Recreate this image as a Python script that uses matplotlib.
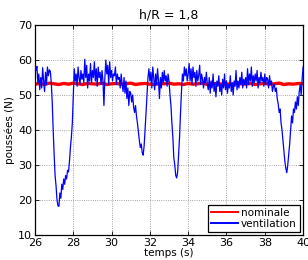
import numpy as np
import matplotlib
matplotlib.use('Agg')
import matplotlib.pyplot as plt

# --- Daten ---
t_start, t_end, dt = 26.0, 40.0, 0.05
ventilation = [
    # 26.00 - 26.95
    58.5, 57.0, 58.2, 53.5, 56.0, 51.5, 55.0, 52.0, 57.8, 54.0,
    51.0, 56.5, 53.0, 58.0, 55.5, 57.2, 56.8, 53.5, 48.0, 40.0,
    # 27.00 - 27.95
    33.0, 27.0, 24.0, 20.0, 18.3, 18.2, 22.0, 20.5, 24.5, 23.0,
    26.0, 24.5, 27.0, 26.0, 28.5, 28.0, 31.0, 35.0, 38.0, 42.0,
    # 28.00 - 28.95
    50.0, 57.5, 54.0, 56.0, 52.5, 58.0, 55.0, 53.0, 57.0, 54.5,
    56.0, 53.5, 60.2, 55.0, 58.5, 52.0, 56.0, 54.0, 59.0, 53.5,
    # 29.00 - 29.95
    57.0, 55.0, 59.5, 54.0, 57.5, 52.5, 58.0, 55.0, 56.5, 53.0,
    57.0, 54.0, 47.0, 55.0, 60.0, 56.0, 58.5, 53.0, 59.5, 55.0,
    # 30.00 - 30.95
    57.0, 54.0, 56.0, 55.5, 58.0, 53.0, 56.0, 54.5, 55.0, 52.0,
    56.0, 53.0, 51.0, 55.0, 50.5, 54.0, 49.0, 52.0, 47.0, 51.0,
    # 31.00 - 31.95
    50.5, 48.0, 50.0, 46.5, 45.0, 47.0, 44.0, 42.0, 39.5, 37.0,
    35.0, 36.0, 33.5, 32.8, 35.5, 40.0, 45.0, 50.0, 55.0, 57.5,
    # 32.00 - 32.95
    54.0, 56.5, 52.0, 58.0, 55.0, 51.5, 56.0, 53.0, 57.5, 54.0,
    49.0, 55.0, 52.0, 56.5, 53.5, 57.0, 54.0, 55.5, 52.5, 56.0,
    # 33.00 - 33.95
    54.0, 50.0, 47.0, 42.0, 38.0, 32.0, 30.0, 27.0, 26.3, 28.0,
    33.0, 38.0, 45.0, 51.0, 56.0, 54.0, 58.0, 55.5, 57.5, 54.0,
    # 34.00 - 34.95
    56.0, 59.0, 54.0, 57.5, 53.0, 58.0, 55.0, 56.5, 52.5, 57.0,
    54.0, 55.5, 58.5, 53.0, 56.0, 54.5, 52.0, 55.0, 53.5, 56.5,
    # 35.00 - 35.95
    53.0, 51.5, 55.0, 50.5, 54.0, 52.0, 56.0, 51.0, 53.5, 49.5,
    54.0, 52.5, 55.5, 51.0, 53.0, 50.0, 54.5, 52.0, 56.0, 51.5,
    # 36.00 - 36.95
    54.0, 50.5, 53.0, 52.0, 55.5, 51.0, 53.5, 50.0, 54.0, 52.5,
    57.0, 51.5, 54.0, 52.0, 55.0, 53.0, 56.5, 52.0, 54.5, 53.0,
    # 37.00 - 37.95
    55.0, 52.0, 57.5, 53.0, 56.0, 54.0, 58.0, 52.5, 55.5, 53.5,
    56.0, 54.0, 57.0, 52.0, 55.0, 53.5, 56.5, 54.0, 55.0, 52.5,
    # 38.00 - 38.95
    56.0, 53.0, 55.0, 54.5, 52.0, 55.5, 53.0, 54.0, 51.0, 52.5,
    53.0, 51.0, 52.0, 49.0, 47.5, 45.0, 46.0, 42.0, 40.0, 37.0,
    # 39.00 - 39.95
    34.0, 31.0, 29.0, 27.8, 30.0, 33.0, 36.0, 40.0, 44.0, 42.0,
    46.0, 45.0, 48.0, 46.0, 49.5, 47.0, 51.0, 53.0, 50.0, 54.5,
    # 40.00
    58.0,
]
nominale = [
    53.1, 53.3, 53.0, 53.4, 53.2, 53.0, 53.3, 53.1, 53.4, 53.2,
    53.0, 53.3, 53.2, 53.1, 53.4, 53.0, 53.2, 53.3, 53.1, 53.2,
    53.4, 53.0, 53.2, 53.3, 53.1, 53.0, 53.3, 53.2, 53.4, 53.1,
    53.2, 53.0, 53.3, 53.1, 53.2, 53.4, 53.0, 53.2, 53.3, 53.1,
    53.2, 53.0, 53.4, 53.2, 53.1, 53.3, 53.0, 53.2, 53.3, 53.1,
    53.2, 53.4, 53.0, 53.2, 53.1, 53.3, 53.2,
]

t_vent = np.linspace(t_start, t_end, len(ventilation))
t_nom = np.linspace(t_start, t_end, len(nominale))

# --- Figur ---
fig = plt.figure(figsize=(3.08, 2.6), dpi=100)
ax = fig.add_axes([0.1136, 0.0962, 0.8704, 0.8076])

ax.plot(t_nom, nominale, color='#ff0000', lw=2.4, label='nominale', zorder=2)
ax.plot(t_vent, ventilation, color='#0000ff', lw=0.9, label='ventilation', zorder=3)

ax.set_xlim(26, 40)
ax.set_ylim(10, 70)
ax.set_xticks(np.arange(26, 41, 2))
ax.set_yticks(np.arange(10, 71, 10))
ax.tick_params(direction='in', top=True, right=True, labelsize=8, length=3, width=0.6, pad=2)
ax.grid(True, linestyle=':', color='#888888', lw=0.6)
for sp in ax.spines.values():
    sp.set_linewidth(0.9)

ax.set_title('h/R = 1,8', fontsize=9, pad=5)
ax.set_xlabel('temps (s)', fontsize=7.5, labelpad=0)
ax.set_ylabel('poussées (N)', fontsize=7.5, labelpad=2)

leg = ax.legend(loc='lower right', fontsize=7.5, fancybox=False, framealpha=1,
                edgecolor='black', borderpad=0.3, handlelength=2.6,
                handletextpad=0.3, labelspacing=0.1, borderaxespad=0.3)
leg.get_frame().set_linewidth(0.9)
for line in leg.get_lines():
    line.set_linewidth(1.4)

fig.savefig('out.png', dpi=100)
